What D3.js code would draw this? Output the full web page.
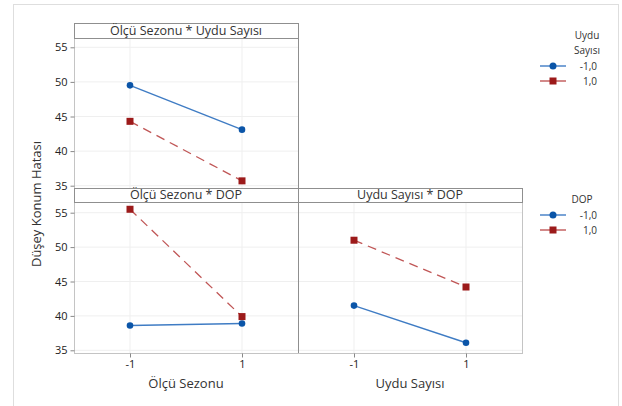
<!DOCTYPE html>
<html>
<head>
<meta charset="utf-8">
<script src="https://cdn.jsdelivr.net/npm/d3@7"></script>
<style>
  body { margin: 0; background: #fff; }
  svg text { font-family: "Open Sans", "Noto Sans", sans-serif; fill: #333; }
</style>
</head>
<body>
<svg id="chart" width="622" height="406"></svg>
<script>
// levels and ticks
let xLevels = [-1, 1];
let xTickLabels = ["-1", "1"];
let yTicks = [35, 40, 45, 50, 55];
let seriesLabels = ["-1,0", "1,0"];

// Ölçü Sezonu * Uydu Sayısı (series = Uydu Sayısı)
let sezonUyduNeg = [49.5, 43.1];
let sezonUyduPos = [44.3, 35.7];
// Ölçü Sezonu * DOP (series = DOP)
let sezonDopNeg = [38.6, 38.9];
let sezonDopPos = [55.5, 39.9];
// Uydu Sayısı * DOP (series = DOP)
let uyduDopNeg = [41.5, 36.1];
let uyduDopPos = [51.0, 44.2];

let blue = "#0b55a8", blueLine = "#3f7cc4";
let red = "#9c1a1a", redLine = "#c05656";

let svg = d3.select("#chart");

// outer frame
svg.append("rect")
  .attr("x", 13.5).attr("y", 4.5).attr("width", 605).attr("height", 420)
  .attr("fill", "none").attr("stroke", "#dedede");

function panel(opts) {
  let g = svg.append("g");
  let x = d3.scaleLinear().domain([-2, 2]).range([opts.left, opts.left + 224]);
  let y = d3.scaleLinear().domain([35, 55]).range(opts.yRange);

  // grid
  g.selectAll(".hg").data(yTicks).enter().append("line")
    .attr("x1", opts.left).attr("x2", opts.left + 224)
    .attr("y1", function(d){ return y(d); }).attr("y2", function(d){ return y(d); })
    .style("stroke", "#efefef");
  g.selectAll(".vg").data(xLevels).enter().append("line")
    .attr("x1", function(d){ return x(d); }).attr("x2", function(d){ return x(d); })
    .attr("y1", opts.plotTop).attr("y2", opts.plotBottom)
    .style("stroke", "#efefef");

  // plot border
  g.append("rect")
    .attr("x", opts.left + 0.5).attr("y", opts.plotTop + 0.5)
    .attr("width", 224).attr("height", opts.plotBottom - opts.plotTop)
    .attr("fill", "none").style("stroke", "#c4c4c4");

  // lines + markers
  let line = d3.line().x(function(d, i){ return x(xLevels[i]); }).y(function(d){ return y(d); });
  g.append("path").attr("d", line(opts.neg))
    .attr("fill", "none").style("stroke", blueLine).style("stroke-width", 1.4);
  g.append("path").attr("d", line(opts.pos))
    .attr("fill", "none").style("stroke", redLine).style("stroke-width", 1.3)
    .style("stroke-dasharray", "9,6");
  g.selectAll(".cn").data(opts.neg).enter().append("circle")
    .attr("cx", function(d, i){ return x(xLevels[i]); })
    .attr("cy", function(d){ return y(d); })
    .attr("r", 3.3).attr("fill", blue);
  g.selectAll(".sq").data(opts.pos).enter().append("rect")
    .attr("x", function(d, i){ return x(xLevels[i]) - 3.5; })
    .attr("y", function(d){ return y(d) - 3.5; })
    .attr("width", 7).attr("height", 7).attr("fill", red);

  // header strip
  g.append("rect")
    .attr("x", opts.left + 0.5).attr("y", opts.headTop + 0.5)
    .attr("width", 224).attr("height", opts.plotTop - opts.headTop)
    .attr("fill", "#fff").style("stroke", "#8f8f8f");
  g.append("text")
    .attr("x", opts.left + 112).attr("y", opts.plotTop - 3)
    .attr("text-anchor", "middle").style("font-size", "12.5px")
    .text(opts.title);

  // y axis
  if (opts.yAxis) {
    let ya = g.append("g").attr("transform", "translate(" + (opts.left + 0.5) + ",0)")
      .call(d3.axisLeft(y).tickValues(yTicks).tickSize(4).tickPadding(3));
    ya.select(".domain").remove();
    ya.selectAll("line").style("stroke", "#888");
    ya.selectAll("text").style("font-size", "11px").style("fill", "#222")
      .style("font-family", "'Open Sans', sans-serif");
  }
  // x axis
  if (opts.xTitle) {
    let xa = g.append("g").attr("transform", "translate(0," + (opts.plotBottom + 0.5) + ")")
      .call(d3.axisBottom(x).tickValues(xLevels).tickFormat(function(d, i){ return xTickLabels[i]; })
        .tickSize(4).tickPadding(3));
    xa.select(".domain").remove();
    xa.selectAll("line").style("stroke", "#888");
    xa.selectAll("text").style("font-size", "11px").style("fill", "#222")
      .style("font-family", "'Open Sans', sans-serif");
    g.append("text")
      .attr("x", opts.left + 112).attr("y", opts.plotBottom + 35)
      .attr("text-anchor", "middle").style("font-size", "13px")
      .text(opts.xTitle);
  }
}

panel({ left: 74, headTop: 23, plotTop: 38, plotBottom: 188, yRange: [185.7, 47.3],
  title: "Ölçü Sezonu * Uydu Sayısı", neg: sezonUyduNeg, pos: sezonUyduPos, yAxis: true });
panel({ left: 74, headTop: 188, plotTop: 202, plotBottom: 353, yRange: [350.3, 212.7],
  title: "Ölçü Sezonu * DOP", neg: sezonDopNeg, pos: sezonDopPos, yAxis: true, xTitle: "Ölçü Sezonu" });
panel({ left: 298, headTop: 188, plotTop: 202, plotBottom: 353, yRange: [350.3, 212.7],
  title: "Uydu Sayısı * DOP", neg: uyduDopNeg, pos: uyduDopPos, xTitle: "Uydu Sayısı" });

// divider between left/right columns
svg.append("line").attr("x1", 298.5).attr("x2", 298.5).attr("y1", 23).attr("y2", 353)
  .style("stroke", "#8f8f8f");

// y title
svg.append("text")
  .attr("transform", "translate(41,204) rotate(-90)")
  .attr("text-anchor", "middle").style("font-size", "13px")
  .text("Düşey Konum Hatası");

// legends
function legend(titleLines, top, titleX) {
  let g = svg.append("g");
  titleLines.forEach(function(t, i){
    g.append("text").attr("x", titleX).attr("y", top + i * 15)
      .attr("text-anchor", "middle").style("font-size", "10px").text(t);
  });
  let y0 = top + titleLines.length * 15 - 3;
  seriesLabels.forEach(function(lab, i){
    let yy = y0 + i * 15;
    g.append("line").attr("x1", 540).attr("x2", 566).attr("y1", yy).attr("y2", yy)
      .style("stroke", i === 0 ? blueLine : redLine).style("stroke-width", 1.4);
    if (i === 0) {
      g.append("circle").attr("cx", 553).attr("cy", yy).attr("r", 3.5).attr("fill", blue);
    } else {
      g.append("rect").attr("x", 549.5).attr("y", yy - 3.5).attr("width", 7).attr("height", 7).attr("fill", red);
    }
    g.append("text").attr("x", 597).attr("y", yy + 3.5)
      .attr("text-anchor", "end").style("font-size", "10px").text(lab);
  });
}
legend(["Uydu", "Sayısı"], 39, 587);
legend(["DOP"], 203, 582);
</script>
</body>
</html>
